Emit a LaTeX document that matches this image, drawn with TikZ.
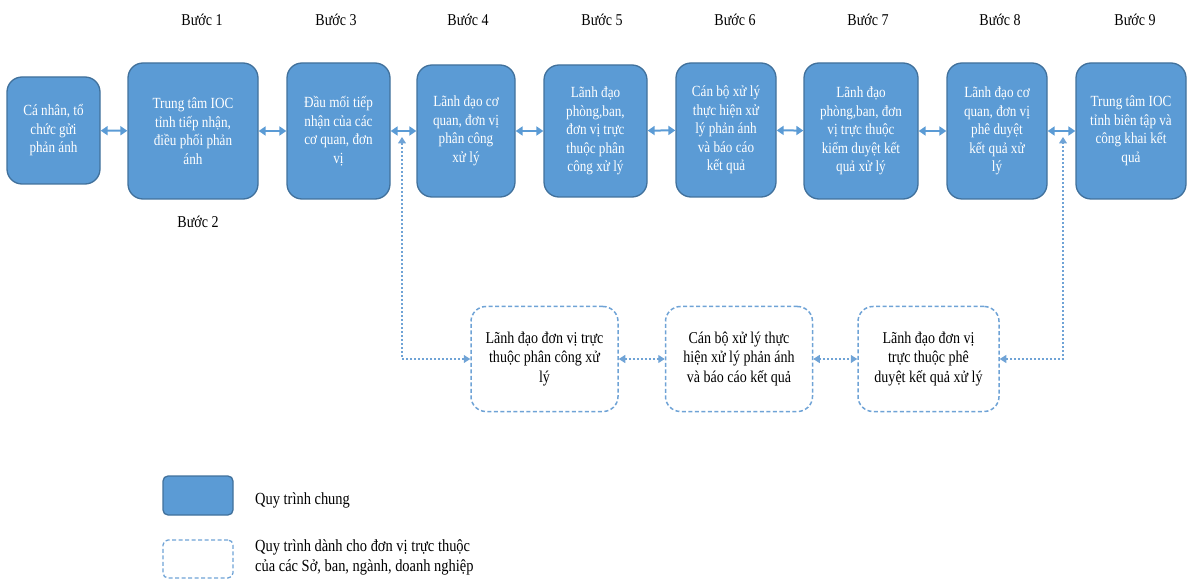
\documentclass[tikz,border=0pt]{standalone}
\usepackage{fontspec}
\setmainfont{Liberation Serif}[FakeStretch=0.85]
\usetikzlibrary{arrows.meta}
\definecolor{boxfill}{HTML}{5B9BD5}
\definecolor{boxline}{HTML}{41719C}
\definecolor{arrowblue}{HTML}{5B9BD5}
\definecolor{dotblue}{HTML}{6FA3D6}
\tikzset{
  topbox/.style={draw=boxline, line width=1.3pt, fill=boxfill, rounded corners=15pt,
    text=white, align=center, inner sep=0pt, font=\fontsize{15.5}{18.5}\selectfont},
  lowbox/.style={draw=dotblue, line width=1.5pt, dash pattern=on 4pt off 2.5pt, fill=white,
    rounded corners=15pt, align=center, inner sep=0pt, text=black,
    font=\fontsize{16.5}{19.5}\selectfont},
  steplabel/.style={font=\fontsize{16.5}{19}\selectfont, inner sep=0pt},
  legtext/.style={font=\fontsize{17}{20}\selectfont, inner sep=0pt, align=left, anchor=west},
  conn/.style={draw=arrowblue, line width=2pt,
    {Triangle[width=9pt,length=7pt]}-{Triangle[width=9pt,length=7pt]}},
  dotconn/.style={draw=dotblue, line width=1.1pt, dash pattern=on 2pt off 2pt,
    {Triangle[width=8pt,length=6.5pt]}-{Triangle[width=8pt,length=6.5pt]}},
}
\begin{document}
\begin{tikzpicture}[x=1pt,y=-1pt]
\useasboundingbox (0,0) rectangle (1187,580);
% step labels
\node[steplabel] (s1) at (202,20) {Bước 1};
\node[steplabel] (s3) at (336,20) {Bước 3};
\node[steplabel] (s4) at (468,20) {Bước 4};
\node[steplabel] (s5) at (602,20) {Bước 5};
\node[steplabel] (s6) at (735,20) {Bước 6};
\node[steplabel] (s7) at (868,20) {Bước 7};
\node[steplabel] (s8) at (1000,20) {Bước 8};
\node[steplabel] (s9) at (1135,20) {Bước 9};
\node[steplabel] (s2) at (198,222) {Bước 2};
% top boxes
\node[topbox, minimum width=93, minimum height=107] (A) at (53.5,130.5) {Cá nhân, tổ\\chức gửi\\phản ánh};
\node[topbox, minimum width=130, minimum height=136] (B) at (193,131) {Trung tâm IOC\\tỉnh tiếp nhận,\\điều phối phản\\ánh};
\node[topbox, minimum width=103, minimum height=136] (C) at (338.5,131) {Đầu mối tiếp\\nhận của các\\cơ quan, đơn\\vị};
\node[topbox, minimum width=98, minimum height=132] (D) at (466,131) {Lãnh đạo cơ\\quan, đơn vị\\phân công\\xử lý};
\node[topbox, minimum width=103, minimum height=132] (E) at (595.5,131) {Lãnh đạo\\phòng,ban,\\đơn vị trực\\thuộc phân\\công xử lý};
\node[topbox, minimum width=100, minimum height=134] (F) at (726,130) {Cán bộ xử lý\\thực hiện xử\\lý phản ánh\\và báo cáo\\kết quả};
\node[topbox, minimum width=114, minimum height=136] (G) at (861,131) {Lãnh đạo\\phòng,ban, đơn\\vị trực thuộc\\kiểm duyệt kết\\quả xử lý};
\node[topbox, minimum width=100, minimum height=136] (H) at (997,131) {Lãnh đạo cơ\\quan, đơn vị\\phê duyệt\\kết quả xử\\lý};
\node[topbox, minimum width=110, minimum height=136] (I) at (1131,131) {Trung tâm IOC\\tỉnh biên tập và\\công khai kết\\quả};
% lower boxes
\node[lowbox, minimum width=147, minimum height=105] (L1) at (544.5,359) {Lãnh đạo đơn vị trực\\thuộc phân công xử\\lý};
\node[lowbox, minimum width=147, minimum height=105] (L2) at (739,359) {Cán bộ xử lý thực\\hiện xử lý phản ánh\\và báo cáo kết quả};
\node[lowbox, minimum width=141, minimum height=105] (L3) at (928.5,359) {Lãnh đạo đơn vị\\trực thuộc phê\\duyệt kết quả xử lý};
% top connectors
\path[conn] (A) -- (B);
\path[conn] (B) -- (C);
\path[conn] (C) -- (D);
\path[conn] (D) -- (E);
\path[conn] (E) -- (F);
\path[conn] (F) -- (G);
\path[conn] (G) -- (H);
\path[conn] (H) -- (I);
% dotted connectors
\coordinate (cd) at (402,137);
\coordinate (hi) at (1063,137);
\path[dotconn] (cd) |- (L1.west);
\path[dotconn] (L1) -- (L2);
\path[dotconn] (L2) -- (L3);
\path[dotconn] (L3.east) -| (hi);
% legend
\node[draw=boxline, line width=1.3pt, fill=boxfill, rounded corners=5pt, minimum width=70, minimum height=39, inner sep=0pt] (lg1) at (198,495.5) {};
\node[legtext] (lt1) at (255,500) {Quy trình chung};
\node[draw=dotblue, line width=1.3pt, dash pattern=on 4pt off 2.5pt, rounded corners=5pt, minimum width=70, minimum height=38, inner sep=0pt] (lg2) at (198,559) {};
\node[legtext] (lt2) at (255,557) {Quy trình dành cho đơn vị trực thuộc\\của các Sở, ban, ngành, doanh nghiệp};
\end{tikzpicture}
\end{document}
